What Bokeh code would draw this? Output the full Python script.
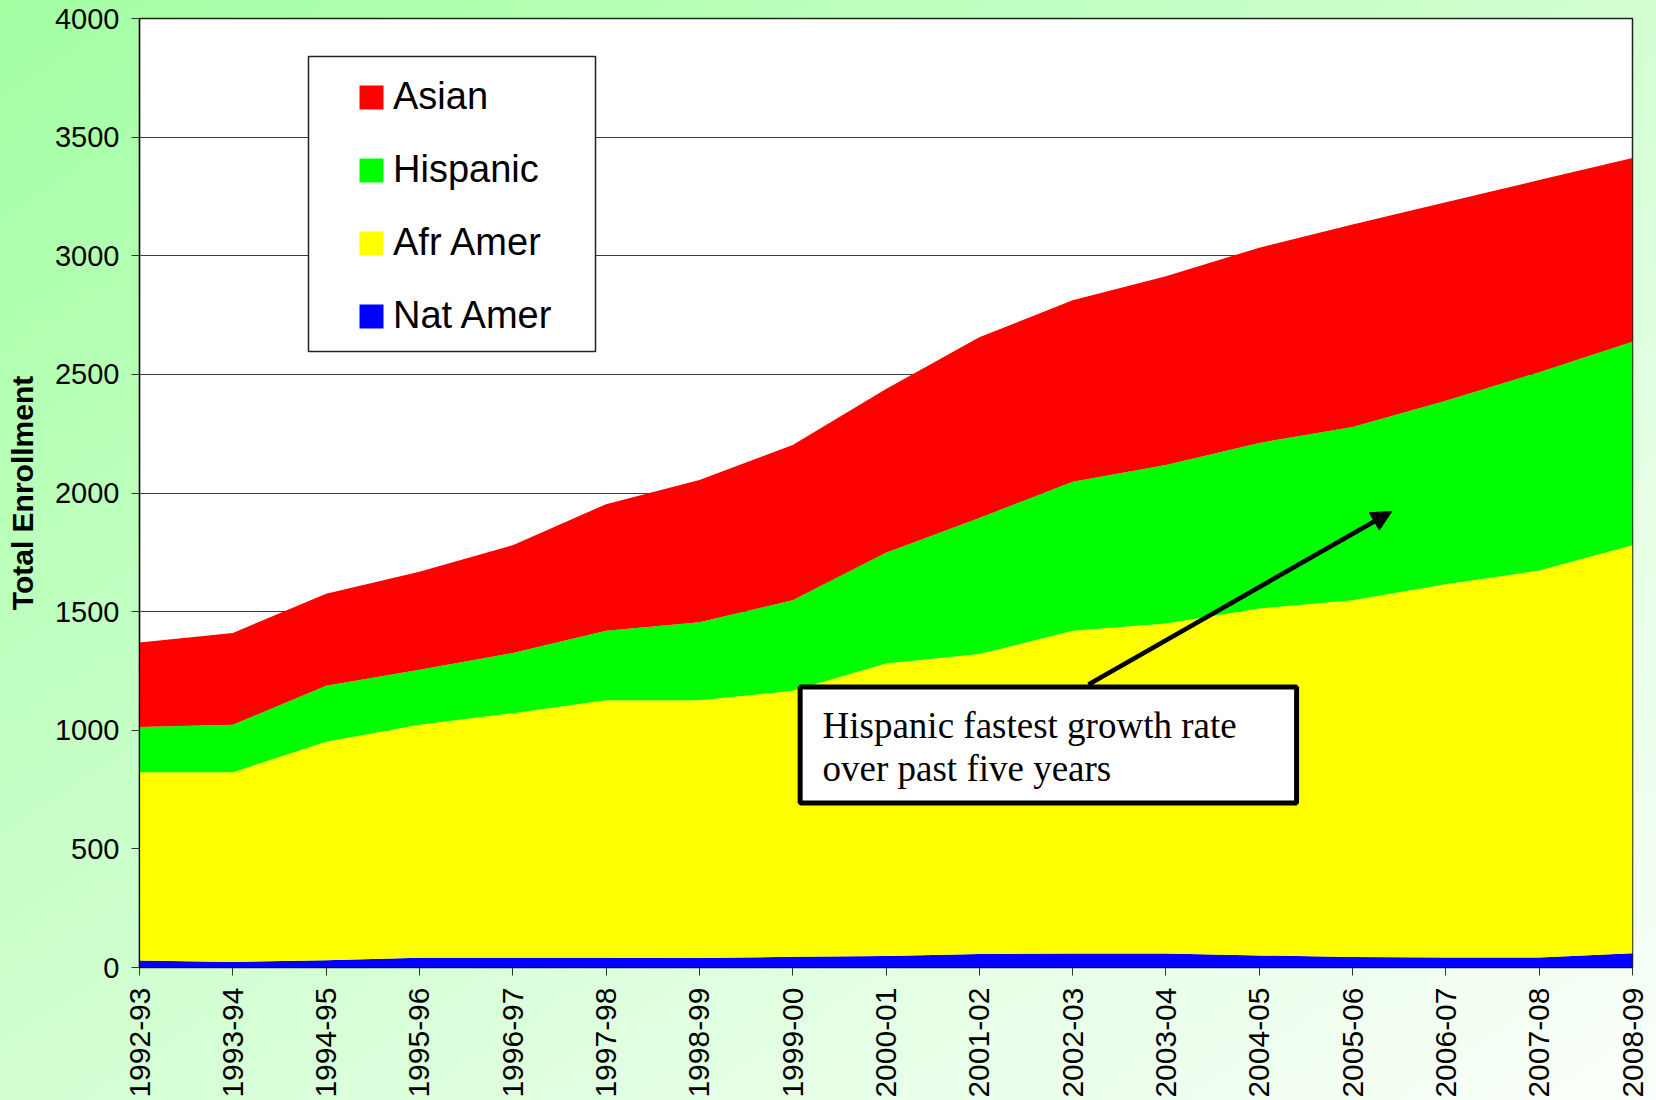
import math
from bokeh.plotting import figure
from bokeh.models import (ColumnDataSource, Legend, LegendItem, BoxAnnotation, Label,
                          Arrow, NormalHead, FixedTicker, Range1d, GlobalInlineStyleSheet)
from bokeh.embed import file_html
from bokeh.resources import INLINE

# ---------------- data ----------------
years = ["1992-93", "1993-94", "1994-95", "1995-96", "1996-97", "1997-98", "1998-99",
         "1999-00", "2000-01", "2001-02", "2002-03", "2003-04", "2004-05", "2005-06",
         "2006-07", "2007-08", "2008-09"]
nat_amer = [30, 23, 31, 41, 41, 41, 40, 45, 48, 57, 59, 59, 51, 44, 42, 42, 60]
afr_amer = [793, 800, 921, 982, 1031, 1085, 1086, 1121, 1233, 1264, 1360, 1391, 1462, 1504, 1573, 1631, 1720]
hispanic = [191, 200, 236, 232, 254, 293, 329, 382, 467, 574, 628, 668, 698, 730, 774, 836, 858]
asian = [356, 387, 387, 413, 454, 534, 600, 654, 690, 761, 765, 796, 823, 854, 836, 810, 774]
y_ticks = [0, 500, 1000, 1500, 2000, 2500, 3000, 3500, 4000]
series_names = ["Nat Amer", "Afr Amer", "Hispanic", "Asian"]
series_colors = ["#0000ff", "#ffff00", "#00ff00", "#ff0000"]
annotation_lines = ["Hispanic fastest growth rate", "over past five years"]

xs = list(range(len(years)))
source = ColumnDataSource(data=dict(x=xs, nat=nat_amer, afr=afr_amer, hisp=hispanic, asian=asian))

p = figure(width=1656, height=1100, output_backend="svg", toolbar_location=None,
           x_range=Range1d(0, len(years) - 1), y_range=Range1d(0, 4000),
           min_border_left=139, min_border_right=24, min_border_top=18, min_border_bottom=133)

p.border_fill_color = None
p.background_fill_color = "white"
p.outline_line_color = "#222222"
p.outline_line_width = 1.5
p.stylesheets = [GlobalInlineStyleSheet(css=(
    "html { min-height: 100%; background: linear-gradient(to bottom right, #a2ffa2 0%, "
    "#d2ffd2 50%, #fbfffb 100%) no-repeat; }"
    "body { background: transparent; }"))]

renderers = p.varea_stack(["nat", "afr", "hisp", "asian"], x="x", source=source,
                          color=series_colors)

# axes
p.xaxis.ticker = FixedTicker(ticks=xs)
p.xaxis.major_label_overrides = {i: y for i, y in enumerate(years)}
p.xaxis.major_label_orientation = math.pi / 2
p.yaxis.ticker = FixedTicker(ticks=y_ticks)
for ax in (p.xaxis, p.yaxis):
    ax.axis_line_color = "black"
    ax.axis_line_width = 1.2
    ax.major_tick_line_color = "#333333"
    ax.major_tick_out = 8
    ax.major_tick_in = 0
    ax.minor_tick_line_color = None
    ax.major_label_text_color = "black"
    ax.major_label_text_font = "Liberation Sans"
p.xaxis.major_label_text_font_size = "30px"
p.xaxis.major_label_standoff = 12
p.yaxis.major_label_text_font_size = "29px"
p.yaxis.major_label_standoff = 12
p.yaxis.axis_label = "Total Enrollment"
p.yaxis.axis_label_text_font = "Liberation Sans"
p.yaxis.axis_label_text_font_style = "bold"
p.yaxis.axis_label_text_font_size = "30px"
p.yaxis.axis_label_text_color = "black"
p.yaxis.axis_label_standoff = 13

p.xgrid.grid_line_color = None
p.ygrid.grid_line_color = "#3a3a3a"
p.ygrid.grid_line_width = 1

# legend frame
p.add_layout(BoxAnnotation(left=1.811, right=4.887, top=3840, bottom=2596,
                           fill_color="white", fill_alpha=1.0,
                           line_color="#222222", line_alpha=1.0, line_width=1.5))

items = [LegendItem(label=series_names[i], renderers=[renderers[i]]) for i in (3, 2, 1, 0)]
legend = Legend(items=items, location=(207, 619),
                border_line_alpha=0, background_fill_alpha=0,
                glyph_width=30, glyph_height=30, label_height=45,
                label_standoff=7, spacing=28, padding=10,
                label_text_font="Liberation Sans", label_text_font_size="38px",
                label_text_color="black")
p.add_layout(legend, "center")

# annotation box with arrow
p.add_layout(Arrow(end=NormalHead(size=20, fill_color="black", line_color="black"),
                   x_start=10.17, y_start=1193, x_end=13.42, y_end=1922,
                   line_color="black", line_width=4.5))
p.add_layout(BoxAnnotation(left=7.08, right=12.40, top=1182, bottom=693,
                           fill_color="white", fill_alpha=1.0,
                           line_color="black", line_alpha=1.0, line_width=5))
for txt, yy in zip(annotation_lines, (1020, 838)):
    p.add_layout(Label(x=7.32, y=yy, text=txt, text_font="Liberation Serif",
                       text_font_size="37px", text_color="black",
                       text_baseline="alphabetic"))

open("out.html", "w").write(file_html(p, INLINE))
